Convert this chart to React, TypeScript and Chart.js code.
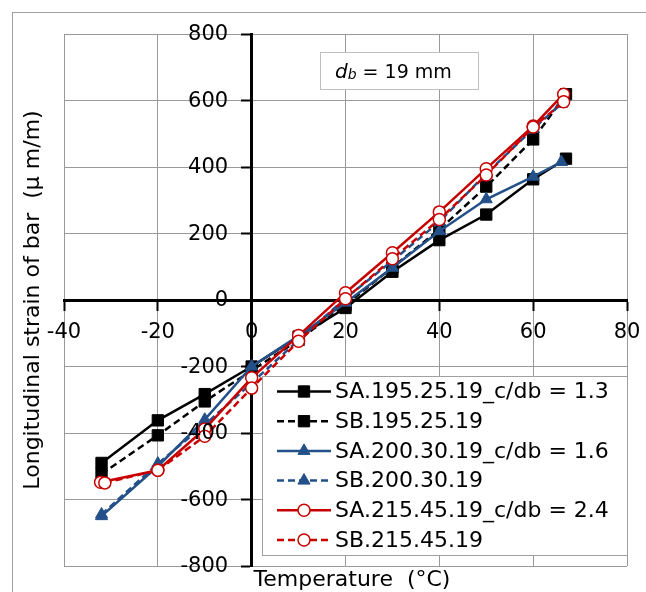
import React, { useEffect, useRef } from 'react';
import { Chart, registerables } from 'chart.js';
import { drawPoint } from 'chart.js/helpers';

Chart.register(...registerables);

// ---------- data ----------
const xTickValues = [-40, -20, 0, 20, 40, 60, 80];
const yTickValues = [-800, -600, -400, -200, 0, 200, 400, 600, 800];

const tempsSA195 = [-32, -20, -10, 0, 10, 20, 30, 40, 50, 60, 67];
const strainSA195 = [-490, -362, -283, -200, -110, -24, 85, 180, 257, 363, 425];
const tempsSB195 = [-32, -20, -10, 0, 10, 20, 30, 40, 50, 60, 67];
const strainSB195 = [-523, -407, -305, -212, -120, -15, 98, 212, 341, 483, 619];

const tempsSA200 = [-32, -20, -10, 0, 10, 20, 30, 40, 50, 60, 66];
const strainSA200 = [-650, -500, -360, -200, -108, -8, 97, 207, 303, 371, 415];
const tempsSB200 = [-32, -20, -10, 0, 10, 20, 30, 40, 50, 60, 66];
const strainSB200 = [-645, -492, -375, -250, -120, 5, 118, 235, 380, 515, 590];

const tempsSA215 = [-32.2, -20, -10, 0, 10, 20, 30, 40, 50, 60, 66.5];
const strainSA215 = [-548, -512, -388, -234, -107, 22, 142, 265, 395, 523, 619];
const tempsSB215 = [-31.3, -20, -10, 0, 10, 20, 30, 40, 50, 60, 66.5];
const strainSB215 = [-550, -512, -410, -265, -124, 4, 124, 242, 376, 520, 596];

const seriesLabels = [
  'SA.195.25.19_c/db = 1.3',
  'SB.195.25.19',
  'SA.200.30.19_c/db = 1.6',
  'SB.200.30.19',
  'SA.215.45.19_c/db = 2.4',
  'SB.215.45.19',
];

const xTitle = 'Temperature  (°C)';
const yTitle = 'Longitudinal strain of bar  (μ m/m)';
const noteVar = 'd';
const noteSub = 'b';
const noteRest = ' = 19 mm';

// ---------- styles ----------
const FONT = "'DejaVu Sans', sans-serif";
const BLACK = '#000000';
const BLUE = '#24508a';
const RED = '#c80000';
const GRID = '#999999';
const DASH = [7, 4];

const pts = (xs: number[], ys: number[]) => xs.map((x, i) => ({ x, y: ys[i] }));

const extrasPlugin = {
  id: 'extras',
  beforeDraw(chart: any) {
    const ctx = chart.ctx;
    ctx.save();
    ctx.fillStyle = '#fff';
    ctx.fillRect(0, 0, chart.width, chart.height);
    ctx.strokeStyle = '#a0a0a0';
    ctx.lineWidth = 1;
    ctx.strokeRect(12.5, 12.5, 800, 800);
    ctx.restore();
  },
  afterDatasetsDraw(chart: any) {
    const ctx = chart.ctx;
    const xs = chart.scales.x;
    const ys = chart.scales.y;
    const axisX = xs.getPixelForValue(0);
    ctx.save();
    ctx.fillStyle = '#000';
    ctx.font = `21px ${FONT}`;
    ctx.textAlign = 'right';
    ctx.textBaseline = 'middle';
    yTickValues.forEach((v) => {
      ctx.fillText(String(v), axisX - 23.5, ys.getPixelForValue(v) + 1);
    });
    ctx.restore();
  },
  afterDraw(chart: any) {
    const ctx = chart.ctx;
    ctx.save();
    // note box
    ctx.fillStyle = '#fff';
    ctx.fillRect(320.5, 52.5, 158, 37);
    ctx.strokeStyle = '#c0c0c0';
    ctx.lineWidth = 1;
    ctx.strokeRect(320.5, 52.5, 158, 37);
    ctx.fillStyle = '#000';
    ctx.textBaseline = 'alphabetic';
    ctx.textAlign = 'left';
    ctx.font = `italic 20px ${FONT}`;
    let x = 335;
    ctx.fillText(noteVar, x, 78);
    x += ctx.measureText(noteVar).width;
    ctx.font = `italic 14px ${FONT}`;
    ctx.fillText(noteSub, x, 79);
    x += ctx.measureText(noteSub).width;
    ctx.font = `19px ${FONT}`;
    ctx.fillText(noteRest, x, 78);

    // legend
    const lx = 262.5, ly = 376.5, lw = 365, lh = 179;
    ctx.fillStyle = '#fff';
    ctx.fillRect(lx, ly, lw, lh);
    ctx.strokeStyle = '#a0a0a0';
    ctx.strokeRect(lx, ly, lw, lh);
    chart.data.datasets.forEach((ds: any, i: number) => {
      const cy = 391.5 + i * 29.7;
      ctx.save();
      ctx.strokeStyle = ds.borderColor;
      ctx.lineWidth = ds.borderWidth;
      ctx.setLineDash(ds.borderDash || []);
      ctx.beginPath();
      ctx.moveTo(277, cy);
      ctx.lineTo(331, cy);
      ctx.stroke();
      ctx.setLineDash([]);
      ctx.fillStyle = ds.pointBackgroundColor;
      ctx.strokeStyle = ds.pointBorderColor;
      ctx.lineWidth = ds.pointBorderWidth;
      drawPoint(ctx, { pointStyle: ds.pointStyle, rotation: 0, radius: ds.pointRadius, borderWidth: ds.pointBorderWidth }, 304, cy);
      ctx.restore();
      ctx.fillStyle = '#000';
      ctx.font = `22px ${FONT}`;
      ctx.textAlign = 'left';
      ctx.textBaseline = 'middle';
      ctx.fillText(ds.label, 335, cy + 1);
    });

    // axis titles
    ctx.fillStyle = '#000';
    ctx.font = `22px ${FONT}`;
    ctx.textAlign = 'center';
    ctx.textBaseline = 'middle';
    ctx.fillText(xTitle, 352, 580);
    ctx.save();
    ctx.translate(33, 300);
    ctx.rotate(-Math.PI / 2);
    ctx.fillText(yTitle, 0, 0);
    ctx.restore();
    ctx.restore();
  },
};

function makeDataset(label: string, data: any[], color: string, dashed: boolean, style: string, hollow: boolean, order: number) {
  const radius = style === 'rect' ? 8 : style === 'triangle' ? 7 : 6;
  return {
    label,
    data,
    showLine: true,
    borderColor: color,
    backgroundColor: color,
    borderWidth: 2.5,
    borderDash: dashed ? DASH : [],
    pointStyle: style,
    pointRadius: radius,
    pointBackgroundColor: hollow ? '#ffffff' : color,
    pointBorderColor: color,
    pointBorderWidth: hollow ? 1.5 : 1,
    tension: 0,
    order,
  };
}

export default function App() {
  const ref = useRef<HTMLCanvasElement | null>(null);
  useEffect(() => {
    if (!ref.current) return;
    const datasets = [
      makeDataset(seriesLabels[0], pts(tempsSA195, strainSA195), BLACK, false, 'rect', false, 5),
      makeDataset(seriesLabels[1], pts(tempsSB195, strainSB195), BLACK, true, 'rect', false, 4),
      makeDataset(seriesLabels[2], pts(tempsSA200, strainSA200), BLUE, false, 'triangle', false, 3),
      makeDataset(seriesLabels[3], pts(tempsSB200, strainSB200), BLUE, true, 'triangle', false, 2),
      makeDataset(seriesLabels[4], pts(tempsSA215, strainSA215), RED, false, 'circle', true, 1),
      makeDataset(seriesLabels[5], pts(tempsSB215, strainSB215), RED, true, 'circle', true, 0),
    ];
    const fitZero = (horizontal: boolean) => (scale: any) => {
      if (horizontal) scale.height = 0; else scale.width = 0;
      scale.paddingLeft = 0;
      scale.paddingRight = 0;
      scale.paddingTop = 0;
      scale.paddingBottom = 0;
    };
    const chart = new Chart(ref.current, {
      type: 'scatter',
      data: { datasets: datasets as any },
      options: {
        animation: false,
        responsive: false,
        maintainAspectRatio: false,
        layout: { padding: { left: 64, right: 19, top: 34, bottom: 26 } },
        plugins: { legend: { display: false }, tooltip: { enabled: false }, title: { display: false } },
        scales: {
          x: {
            type: 'linear',
            position: { y: 0 } as any,
            min: xTickValues[0],
            max: xTickValues[xTickValues.length - 1],
            afterBuildTicks: (scale: any) => { scale.ticks = xTickValues.map((v) => ({ value: v })); },
            afterFit: fitZero(true),
            ticks: {
              autoSkip: false,
              maxRotation: 0,
              color: '#000',
              padding: 11,
              font: { family: FONT, size: 21 },
            },
            grid: { color: GRID, lineWidth: 1, tickColor: '#000', tickLength: 9, tickWidth: 2 },
            border: { color: '#000', width: 3 },
          },
          y: {
            type: 'linear',
            position: { x: 0 } as any,
            min: yTickValues[0],
            max: yTickValues[yTickValues.length - 1],
            afterBuildTicks: (scale: any) => { scale.ticks = yTickValues.map((v) => ({ value: v })); },
            afterFit: fitZero(false),
            ticks: {
              display: false,
              autoSkip: false,
              font: { family: FONT, size: 21 },
            },
            grid: { color: GRID, lineWidth: 1, tickColor: '#000', tickLength: 9, tickWidth: 2 },
            border: { color: '#000', width: 3 },
          },
        },
      },
      plugins: [extrasPlugin],
    });
    return () => chart.destroy();
  }, []);
  return (
    <div style={{ position: 'absolute', left: 0, top: 0, width: 646, height: 592, overflow: 'hidden' }}>
      <canvas ref={ref} width={646} height={592} style={{ display: 'block' }} />
    </div>
  );
}
